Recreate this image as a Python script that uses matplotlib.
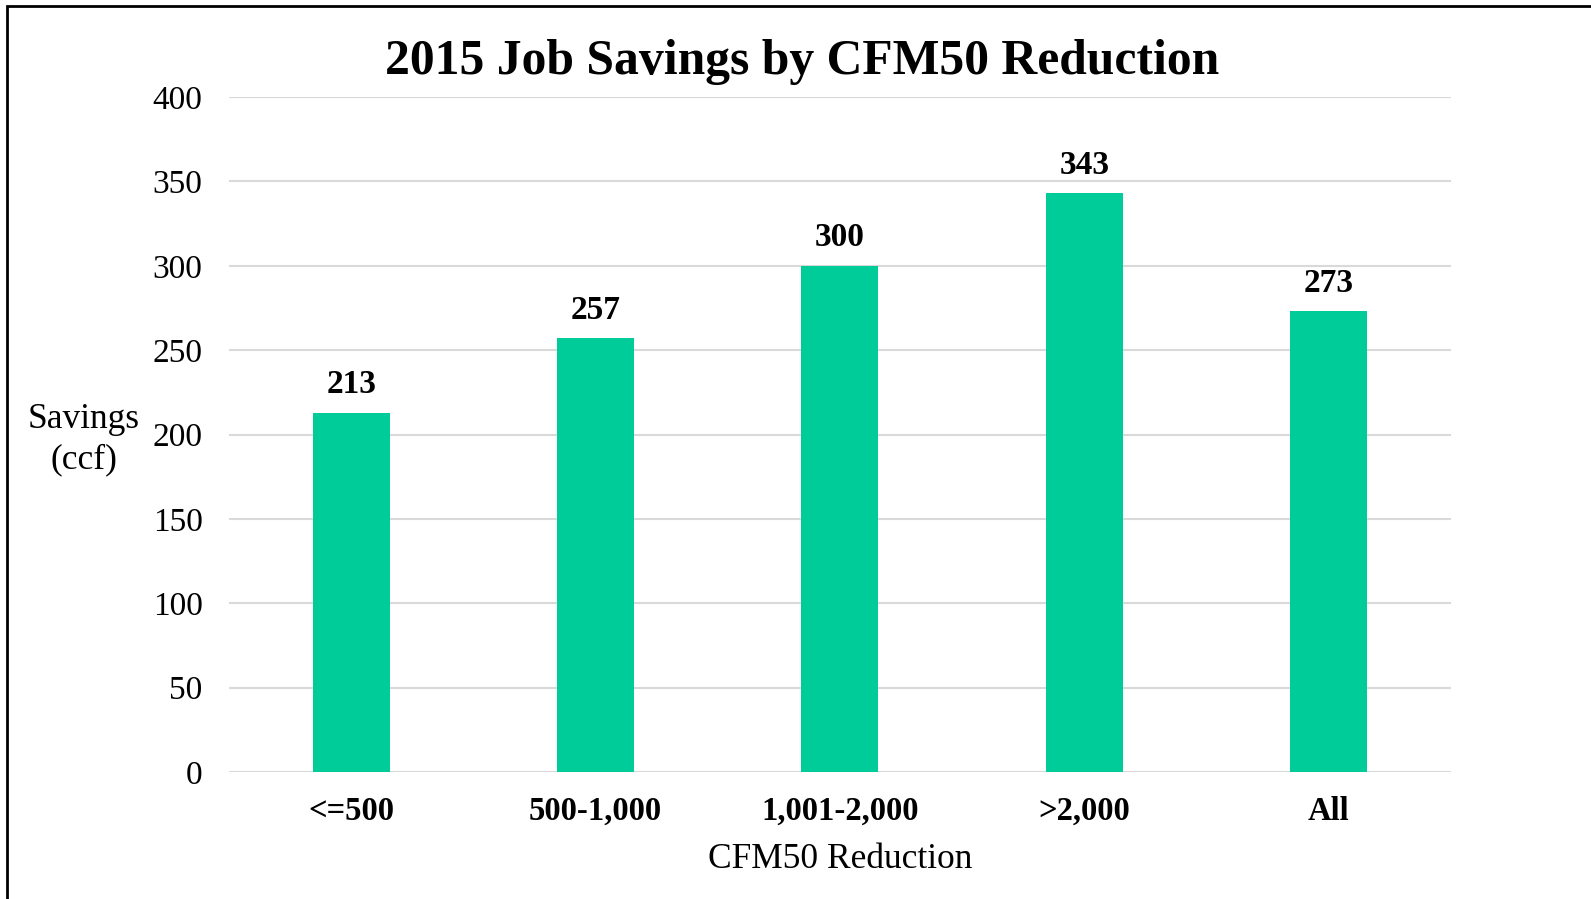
import matplotlib.pyplot as plt
from matplotlib.patches import Rectangle

# Savings per job, grouped by CFM50 reduction
categories = ['<=500', '500-1,000', '1,001-2,000', '>2,000', 'All']
savings = [213, 257, 300, 343, 273]
yticks = [0, 50, 100, 150, 200, 250, 300, 350, 400]

plt.rcParams['font.family'] = ['Liberation Serif', 'DejaVu Serif']

fig = plt.figure(figsize=(15.91, 8.99), dpi=100)
ax = fig.add_axes([0.1439, 0.1413, 0.9120 - 0.1439, 0.892 - 0.1413])

x = range(len(categories))
ax.bar(x, savings, width=0.315, color='#00CC99', zorder=2)

# Value labels above each bar
for xi, v in zip(x, savings):
    ax.annotate(str(v), (xi, v), xytext=(0, 9), textcoords='offset points',
                ha='center', va='bottom', fontsize=24, fontweight='bold')

ax.set_xlim(-0.5, len(categories) - 0.5)
ax.set_ylim(0, 400)
ax.set_yticks(yticks)
ax.set_xticks(list(x))
ax.set_xticklabels(categories, fontweight='bold', fontsize=23.5)
ax.tick_params(axis='y', length=0, labelsize=24, pad=19)
ax.tick_params(axis='x', length=0, pad=17)
ax.grid(axis='y', color='#D9D9D9', linewidth=1.5, zorder=0)
for s in ax.spines.values():
    s.set_visible(False)

ax.set_xlabel('CFM50 Reduction', fontsize=25.5, labelpad=12)
fig.text(84 / 1591, 1 - 440 / 899, 'Savings\n(ccf)', fontsize=25.5,
         ha='center', va='center', linespacing=1.3)
fig.text(802 / 1591, 1 - 62 / 899, '2015 Job Savings by CFM50 Reduction',
         fontsize=35.7, fontweight='bold', ha='center', va='center')

# Outer frame (only top and left edges fall inside the image)
fig.patches.append(Rectangle((7 / 1591, -0.1), 1.2, 1.1 - 6 / 899,
                             transform=fig.transFigure, fill=False,
                             edgecolor='black', linewidth=2))

fig.savefig('out.png', dpi=100)
